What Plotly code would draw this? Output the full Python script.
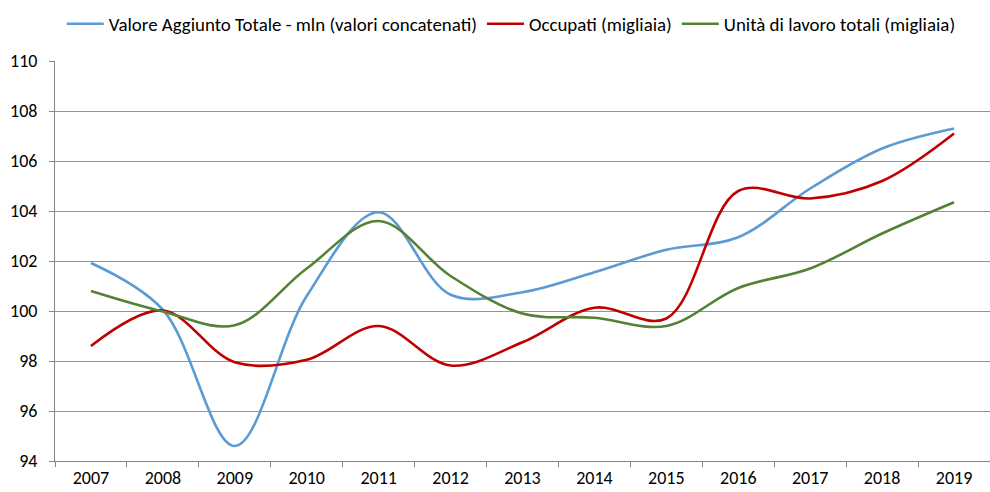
import plotly.graph_objects as go

years = ["2007", "2008", "2009", "2010", "2011", "2012", "2013",
         "2014", "2015", "2016", "2017", "2018", "2019"]
valore_aggiunto = [101.92, 100.05, 94.6, 100.6, 103.95, 100.65, 100.75,
                   101.55, 102.45, 102.95, 104.9, 106.5, 107.3]
occupati = [98.6, 100.02, 97.95, 98.05, 99.4, 97.82, 98.75,
            100.13, 99.7, 104.8, 104.5, 105.2, 107.1]
unita_lavoro = [100.8, 99.98, 99.43, 101.7, 103.6, 101.4, 99.9,
                99.73, 99.4, 100.92, 101.7, 103.1, 104.35]

names = ["Valore Aggiunto Totale - mln (valori concatenati)",
         "Occupati (migliaia)",
         "Unità di lavoro totali (migliaia)"]
colors = ["#5B9BD5", "#C00000", "#548235"]
series = [valore_aggiunto, occupati, unita_lavoro]

fig = go.Figure()
for name, col, vals in zip(names, colors, series):
    fig.add_trace(go.Scatter(
        x=years, y=vals, name=name, mode="lines",
        line=dict(color=col, width=2.6, shape="spline", smoothing=1.0),
    ))

font_family = "Carlito, Lato, 'Liberation Sans', sans-serif"
fig.update_layout(
    width=990, height=492,
    margin=dict(l=55, r=0, t=61, b=31, autoexpand=False),
    paper_bgcolor="white", plot_bgcolor="white",
    font=dict(family=font_family, size=18, color="#000000"),
    legend=dict(orientation="h", x=0.488, xanchor="center",
                y=0.99, yanchor="top", yref="container",
                font=dict(size=18.9), itemwidth=37,
                traceorder="normal", tracegroupgap=0),
    showlegend=True,
)
fig.update_xaxes(
    type="category", range=[-0.5, 12.5],
    showgrid=False, showline=True, linecolor="#868686", linewidth=1,
    ticks="outside", tickson="boundaries", ticklen=5, tickcolor="#868686",
    tickfont=dict(size=18), zeroline=False,
)
fig.update_yaxes(
    range=[94, 110], dtick=2, tick0=94,
    showgrid=True, gridcolor="#939393", gridwidth=1,
    showline=True, linecolor="#868686", linewidth=1,
    ticks="outside", ticklen=5, tickcolor="#868686",
    tickfont=dict(size=18), zeroline=False, ticklabelstandoff=8,
)
fig.write_html("out.html", config={"displayModeBar": False},
               post_script="document.body.style.margin='0';")
